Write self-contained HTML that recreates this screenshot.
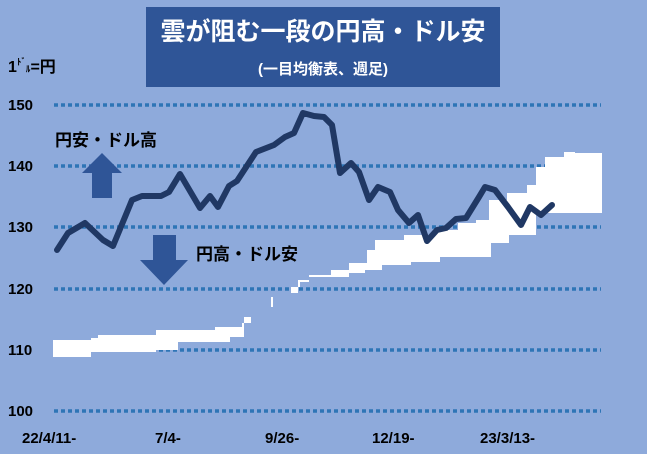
<!DOCTYPE html>
<html><head><meta charset="utf-8"><style>
body{margin:0;width:647px;height:454px;overflow:hidden;background:#8eaadb}
svg{display:block}
text{font-family:"Liberation Sans","Noto Sans CJK JP",sans-serif;font-weight:bold}
</style></head><body>
<svg width="647" height="454" viewBox="0 0 647 454">
<rect width="647" height="454" fill="#8eaadb"/>
<g stroke="#2e75b6" stroke-width="3.5" stroke-dasharray="4 3">
<line x1="54" y1="105" x2="601" y2="105"/>
<line x1="54" y1="166" x2="601" y2="166"/>
<line x1="54" y1="227" x2="601" y2="227"/>
<line x1="54" y1="289" x2="601" y2="289"/>
<line x1="54" y1="350" x2="601" y2="350"/>
<line x1="54" y1="411" x2="601" y2="411"/>
</g>
<polygon fill="#fff" points="53,340 91,340 91,338 98,338 98,335 156,335 156,330 215,330 215,327 242,327 242,323 251,323 251,317 262,317 262,307 271,307 271,297 291,297 291,293 298,293 298,280 309,280 309,275 331,275 331,270 349,270 349,263 367,263 367,250 375,250 375,240 404,240 404,235 433,235 433,230 458,230 458,223 476,223 476,220 489,220 489,200 507,200 507,193 527,193 527,185 536,185 536,167 545,167 545,157 564,157 564,152 575,152 575,153 602,153 602,213 536,213 536,235 509,235 509,243 491,243 491,257 440,257 440,262 411,262 411,265 382,265 382,270 365,270 365,273 349,273 349,277 309,277 309,282 300,282 300,287 291,287 291,297 273,297 273,307 262,307 262,317 244,317 244,337 230,337 230,342 178,342 178,350 156,350 156,352 91,352 91,357 53,357"/>
<polyline fill="none" stroke="#203864" stroke-width="6" stroke-linejoin="round" stroke-linecap="round" points="57,250 68,233 85,223 103,240 113,246 132,200 142,196 161,196 169,192 180,174 200,208 210,196 218,207 229,186 237,181 256,152 274,145 285,137 294,133 303,113 314,116 324,117 332,125 340,173 351,163 359,172 369,200 378,187 390,192 398,210 409,223 418,215 427,241 437,230 446,228 456,219 466,218 479,197 485,187 495,190 508,207 521,225 530,207 541,215 552,205"/>
<rect x="146" y="7" width="354" height="80" fill="#2f5597"/>
<text x="323" y="40" font-size="25" fill="#fff" text-anchor="middle">雲が阻む一段の円高・ドル安</text>
<text x="323" y="74" font-size="15" fill="#fff" text-anchor="middle">(一目均衡表、週足)</text>
<text x="8" y="72" font-size="16" fill="#000">1<tspan font-size="9" dy="-7">ﾄﾞ</tspan><tspan font-size="9" dy="7">ﾙ</tspan>=円</text>
<g font-size="15" fill="#000">
<text x="8" y="110">150</text><text x="8" y="171">140</text><text x="8" y="232">130</text>
<text x="8" y="294">120</text><text x="8" y="355">110</text><text x="8" y="416">100</text>
<text x="22" y="443">22/4/11-</text><text x="155" y="443">7/4-</text><text x="265" y="443">9/26-</text>
<text x="372" y="443">12/19-</text><text x="480" y="443">23/3/13-</text>
</g>
<text x="55" y="146" font-size="17" fill="#000" font-weight="normal">円安・ドル高</text>
<text x="196" y="260" font-size="17" fill="#000" font-weight="normal">円高・ドル安</text>
<polygon fill="#2f5597" points="102,153 122,173 112,173 112,198 92,198 92,173 82,173"/>
<polygon fill="#2f5597" points="153,235 176,235 176,260 188,260 164,285 140,260 153,260"/>
</svg>
</body></html>
